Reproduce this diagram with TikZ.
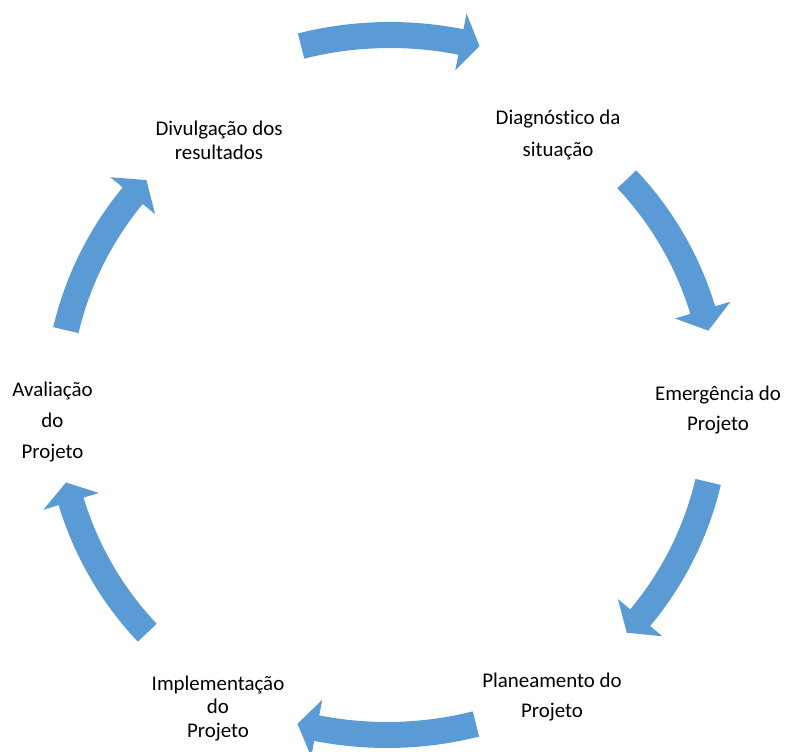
\documentclass[tikz,border=0pt]{standalone}
\usepackage{fontspec}
\setmainfont{Carlito}[Ligatures=NoCommon]
\usepackage{tikz}
\usetikzlibrary{calc}
\definecolor{arrowblue}{HTML}{5B9BD5}

\begin{document}
\begin{tikzpicture}[
        x=0.02cm, y=0.02cm,
        lbl/.style={align=center, inner sep=0pt, font=\fontsize{11.9}{17.6}\selectfont},
        tight/.style={font=\fontsize{11.9}{13.6}\selectfont},
        arr/.style={fill=arrowblue}
      ]
      \useasboundingbox (0,0) rectangle (787,751);
      % steps of the cycle
      \node[lbl, font=\fontsize{11.9}{18.4}\selectfont] (diag) at (558,616) {Diagnóstico da\\situação};
      \node[lbl] (emerg) at (718,341) {Emergência do\\Projeto};
      \node[lbl] (plan) at (552,54) {Planeamento do\\Projeto};
      \node[lbl, tight] (impl) at (218,42.5) {Implementação\\do\\Projeto};
      \node[lbl] (aval) at (52.5,329) {Avaliação\\do\\Projeto};
      \node[lbl, tight] (divul) at (219,610.5) {Divulgação dos\\resultados};
      % block arrows: centre / radius / tail / head base / tip
      \foreach \cx/\cy/\r/\a/\b/\c in {390/351/365/104.1/78.8/75.8,
          387/345/330/43.4/16.9/13.2, 387/345/330/-13.3/-39.9/-43.4,
          387/381/365/-75.9/-101.1/-104.2, 387/345/330/223.4/196.8/193.4,
          387/345/330/166.7/140.4/136.8} {
        \coordinate (m) at (\cx,\cy);
        \fill[arr] ($(m)+(\a:\r+13)$) arc[start angle=\a, end angle=\b, radius=\r+13]
          -- ($(m)+(\b:\r+29)$) -- ($(m)+(\c:\r)$) -- ($(m)+(\b:\r-29)$)
          -- ($(m)+(\b:\r-13)$) arc[start angle=\b, end angle=\a, radius=\r-13] -- cycle;
      }
    \end{tikzpicture}
\end{document}
